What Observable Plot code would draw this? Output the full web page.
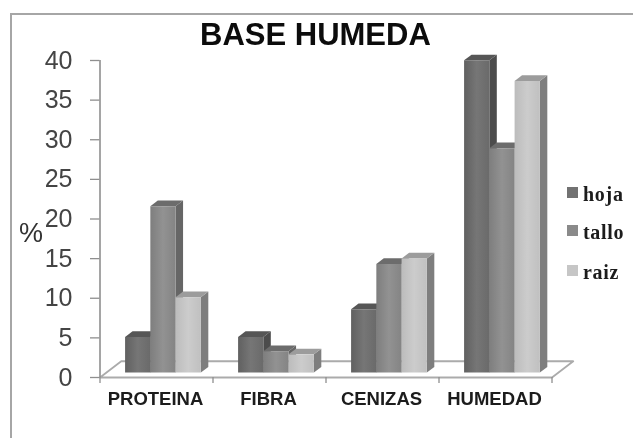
<!DOCTYPE html>
<html><head><meta charset="utf-8">
<script src="https://cdn.jsdelivr.net/npm/d3@7"></script>
<script src="https://cdn.jsdelivr.net/npm/@observablehq/plot@0.6"></script>
<style>
html,body{margin:0;padding:0;background:#fff;}
#wrap{position:relative;width:633px;height:438px;overflow:hidden;}
#wrap svg{position:absolute;left:0;top:0;filter:blur(0.6px);}
#frame{position:absolute;left:10px;top:13px;right:-5px;bottom:-5px;border-left:2px solid #a6a6a6;border-top:2px solid #a6a6a6;}
#title{position:absolute;left:200px;top:17px;font:bold 31px "Liberation Sans",Arial,sans-serif;color:#0c0c0c;white-space:nowrap;filter:blur(0.4px);}
.lg{position:absolute;left:583px;font:bold 20px "Liberation Serif",serif;letter-spacing:0.7px;color:#1c1c1c;line-height:20px;filter:blur(0.4px);}
.sw{position:absolute;left:567px;width:11px;height:11px;filter:blur(0.5px);}
</style></head>
<body><div id="wrap"><div id="frame"></div><div id="title">BASE HUMEDA</div></div>
<script>
const categories = ["PROTEINA", "FIBRA", "CENIZAS", "HUMEDAD"];
const series = ["hoja", "tallo", "raiz"];
const hoja = [4.5, 4.5, 8.0, 39.4];
const tallo = [21.0, 2.7, 13.7, 28.3];
const raiz = [9.5, 2.3, 14.4, 36.8];
const yTicks = [0, 5, 10, 15, 20, 25, 30, 35, 40];
const xTicks = [0, 1, 2, 3, 4];
const frontFill = ["url(#g0)", "url(#g1)", "url(#g2)"];
const sideFill = ["#4c4c4c", "#666666", "#7e7e7e"];
const topFill = ["#565656", "#6c6c6c", "#9c9c9c"];
const legendFill = ["#727272", "#8a8a8a", "#c6c6c6"];

// Chart geometry expressed in data units of the x (category) and y (percent) scales
const barStart = 0.222, barWidth = 0.2235;
const depthX = 0.066, depthY = 0.72;
const floorX = 0.188, floorY = 2.05;
const lift = 0.62;

const values = [hoja, tallo, raiz];
function faces(s) {
  const side = [], top = [], front = [];
  categories.forEach((c, i) => {
    const x0 = i + barStart + s * barWidth, x1 = x0 + barWidth, v = values[s][i] + lift;
    const add = (arr, pts) => pts.forEach(([x, y]) => arr.push({c, x, y}));
    add(side, [[x1, lift], [x1 + depthX, lift + depthY], [x1 + depthX, v + depthY], [x1, v]]);
    add(top, [[x0, v], [x1, v], [x1 + depthX, v + depthY], [x0 + depthX, v + depthY]]);
    add(front, [[x0, lift], [x1, lift], [x1, v], [x0, v]]);
  });
  return {side, top, front};
}
const floor = [[0, 0], [4, 0], [4 + floorX, floorY], [floorX, floorY], [0, 0]].map(([x, y]) => ({x, y}));

const barMarks = series.flatMap((name, s) => {
  const f = faces(s);
  return [
    Plot.line(f.side, {x: "x", y: "y", z: "c", fill: sideFill[s], curve: "linear-closed"}),
    Plot.line(f.top, {x: "x", y: "y", z: "c", fill: topFill[s], curve: "linear-closed"}),
    Plot.line(f.front, {x: "x", y: "y", z: "c", fill: frontFill[s], curve: "linear-closed"})
  ];
});

const chart = Plot.plot({
  width: 633, height: 438,
  marginTop: 60, marginBottom: 61, marginLeft: 99.5, marginRight: 81.5,
  x: {type: "linear", domain: [0, 4]},
  y: {type: "linear", domain: [0, 40]},
  style: {background: "transparent", overflow: "visible"},
  marks: [
    Plot.line(floor, {x: "x", y: "y", stroke: "#ababab", strokeWidth: 1.8, fill: "white"}),
    Plot.ruleX([0], {y1: 0, y2: 40, stroke: "#8f8f8f", strokeWidth: 1.6}),
    Plot.axisY({ticks: yTicks, tickSize: 9.5, tickPadding: 18, fontSize: 25, fontFamily: "Liberation Sans", color: "#444", stroke: "#8f8f8f", strokeWidth: 1.3, label: null, tickFormat: d => d}),
    Plot.axisX({ticks: xTicks, tickSize: 6, tickFormat: () => "", stroke: "#8f8f8f", strokeWidth: 1.3, label: null}),
    ...barMarks,
    Plot.text(categories, {x: (d, i) => i + 0.5, y: 0, dy: 22, dx: -1, text: d => d, fontSize: 18.5, fontWeight: "bold", fontFamily: "Liberation Sans", fill: "#1c1c1c"}),
    Plot.text(["%"], {x: 0, y: 18.2, dx: -69, text: d => d, fontSize: 27, fontFamily: "Liberation Sans", fill: "#333"})
  ]
});

const defs = d3.create("svg:defs");
[["#606060", "#767676", "#6a6a6a"], ["#7e7e7e", "#929292", "#848484"], ["#bcbcbc", "#cccccc", "#c0c0c0"]].forEach((stops, i) => {
  const g = defs.append("linearGradient").attr("id", "g" + i);
  stops.forEach((c, k) => g.append("stop").attr("offset", k / 2).attr("stop-color", c));
});
chart.insertBefore(defs.node(), chart.firstChild);

const wrap = document.getElementById("wrap");
wrap.insertBefore(chart, wrap.firstChild);
const legendTop = [187, 225, 265];
series.forEach((name, s) => {
  const sw = document.createElement("div");
  sw.className = "sw";
  sw.style.top = legendTop[s] + "px";
  sw.style.background = legendFill[s];
  wrap.appendChild(sw);
  const el = document.createElement("div");
  el.className = "lg";
  el.style.top = (legendTop[s] - 3) + "px";
  el.textContent = name;
  wrap.appendChild(el);
});
</script></body></html>
